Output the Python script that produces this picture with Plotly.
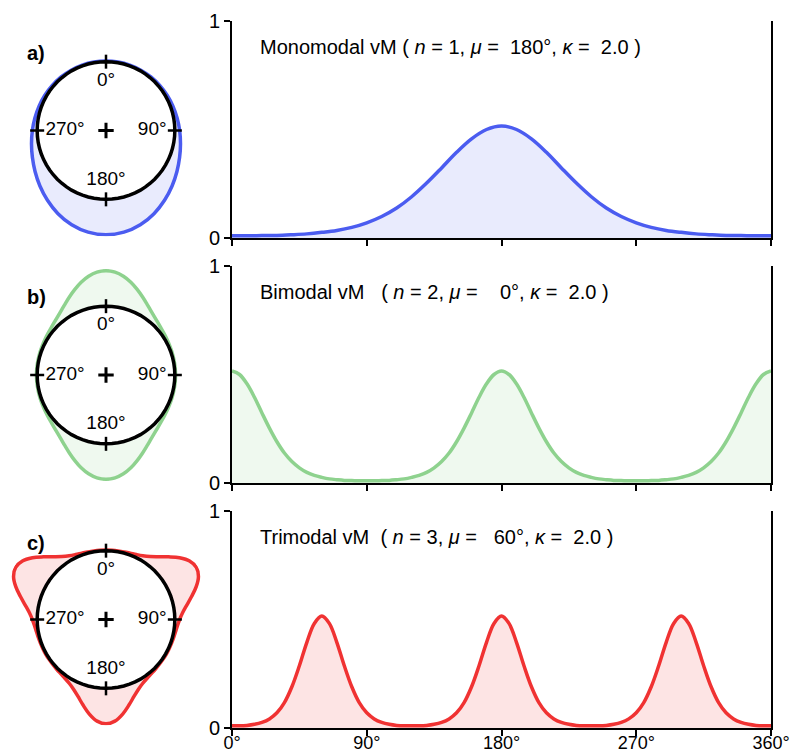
import plotly.graph_objects as go

# ---------------- data ----------------
theta_mono = list(range(0, 361, 10))   # degrees, 10° steps
theta_multi = list(range(0, 361, 5))   # degrees, 5° steps

mono_vals = [0.010, 0.010, 0.011, 0.012, 0.015, 0.019, 0.026, 0.035, 0.049, 0.070,
             0.099, 0.138, 0.190, 0.253, 0.323, 0.395, 0.457, 0.500, 0.516,
             0.500, 0.457, 0.395, 0.323, 0.253, 0.190, 0.138, 0.099, 0.070,
             0.049, 0.035, 0.026, 0.019, 0.015, 0.012, 0.011, 0.010, 0.010]

bi_vals = [0.516, 0.500, 0.457, 0.395, 0.323, 0.253, 0.190, 0.138, 0.099, 0.070,
           0.049, 0.035, 0.026, 0.019, 0.015, 0.012, 0.011, 0.010, 0.010,
           0.010, 0.011, 0.012, 0.015, 0.019, 0.026, 0.035, 0.049, 0.070,
           0.099, 0.138, 0.190, 0.253, 0.323, 0.395, 0.457, 0.500, 0.516,
           0.500, 0.457, 0.395, 0.323, 0.253, 0.190, 0.138, 0.099, 0.070,
           0.049, 0.035, 0.026, 0.019, 0.015, 0.012, 0.011, 0.010, 0.010,
           0.010, 0.011, 0.012, 0.015, 0.019, 0.026, 0.035, 0.049, 0.070,
           0.099, 0.138, 0.190, 0.253, 0.323, 0.395, 0.457, 0.500, 0.516]

tri_vals = [0.010, 0.010, 0.012, 0.017, 0.026, 0.042, 0.070, 0.117, 0.190, 0.287,
            0.395, 0.482, 0.516, 0.482, 0.395, 0.287, 0.190, 0.117, 0.070, 0.042,
            0.026, 0.017, 0.012, 0.010,
            0.010, 0.010, 0.012, 0.017, 0.026, 0.042, 0.070, 0.117, 0.190, 0.287,
            0.395, 0.482, 0.516, 0.482, 0.395, 0.287, 0.190, 0.117, 0.070, 0.042,
            0.026, 0.017, 0.012, 0.010,
            0.010, 0.010, 0.012, 0.017, 0.026, 0.042, 0.070, 0.117, 0.190, 0.287,
            0.395, 0.482, 0.516, 0.482, 0.395, 0.287, 0.190, 0.117, 0.070, 0.042,
            0.026, 0.017, 0.012, 0.010, 0.010]

names = ["Monomodal", "Bimodal", "Trimodal"]
n_vals = [1, 2, 3]
mu_vals = [180, 0, 60]
kappa_vals = [2.0, 2.0, 2.0]
panel_labels = ["a)", "b)", "c)"]

x_tickvals = [0, 90, 180, 270, 360]
x_ticktext = ["0°", "90°", "180°", "270°", "360°"]
y_tickvals = [0, 1]
y_ticktext = ["0", "1"]

compass_angles = [0, 90, 180, 270]
compass_text = ["0°", "90°", "180°", "270°"]

baseline = 1.0  # polar: curve drawn as baseline + density

# ---------------- styles ----------------
line_colors = ["rgb(75,92,240)", "rgb(142,210,142)", "rgb(240,50,50)"]
fill_colors = ["rgba(75,92,240,0.12)", "rgba(142,210,142,0.14)", "rgba(240,50,50,0.13)"]
FONT = "Liberation Sans, Arial, sans-serif"
FS = 20
NB = "\u00a0"

thetas = [theta_mono, theta_multi, theta_multi]
vals = [mono_vals, bi_vals, tri_vals]

# layout geometry (paper fractions)
W, H = 790, 755
x_dom = [232 / W, 771 / W]
y_doms = [[1 - 238 / H, 1 - 21 / H], [1 - 483 / H, 1 - 266 / H], [1 - 728 / H, 1 - 511 / H]]
polar_centers = [130.5, 375.0, 619.5]
polar_size = 212
label_y = [53, 297, 543]

fig = go.Figure()
layout = dict()

for i in range(3):
    sfx = "" if i == 0 else str(i + 1)
    th = thetas[i]
    v = vals[i]

    # ---- right: linear density plot ----
    fig.add_trace(go.Scatter(
        x=th, y=v, mode="lines",
        line=dict(color=line_colors[i], width=3.5, shape="spline"),
        fill="tozeroy", fillcolor=fill_colors[i],
        xaxis="x" + sfx, yaxis="y" + sfx,
        showlegend=False, hoverinfo="skip"))

    layout["xaxis" + sfx] = dict(
        domain=x_dom, range=[0, 360], anchor="y" + sfx, automargin=False,
        tickmode="array", tickvals=x_tickvals, ticktext=x_ticktext,
        showticklabels=(i == 2), ticks="outside", ticklen=6, tickwidth=2,
        ticklabelstandoff=-9, ticklabeloverflow="allow",
        tickcolor="black", showline=True, linecolor="black", linewidth=2,
        showgrid=False, zeroline=False,
        tickfont=dict(size=18, color="black", family=FONT))
    layout["yaxis" + sfx] = dict(
        domain=y_doms[i], range=[0, 1], anchor="x" + sfx, automargin=False,
        tickmode="array", tickvals=y_tickvals, ticktext=y_ticktext,
        ticks="outside", ticklen=6, tickwidth=2, tickcolor="black",
        showline=True, mirror=True, linecolor="black", linewidth=2,
        showgrid=False, zeroline=False,
        tickfont=dict(size=FS, color="black", family=FONT))

    # ---- left: polar representation ----
    sp = "polar" + sfx
    fig.add_trace(go.Scatterpolar(
        r=[baseline] * len(th), theta=th, mode="lines",
        line=dict(color="rgba(0,0,0,0)", width=0),
        subplot=sp, showlegend=False, hoverinfo="skip"))
    fig.add_trace(go.Scatterpolar(
        r=[baseline + x for x in v], theta=th, mode="lines",
        line=dict(color=line_colors[i], width=3.5, shape="spline"),
        fill="tonext", fillcolor=fill_colors[i],
        subplot=sp, showlegend=False, hoverinfo="skip"))
    fig.add_trace(go.Scatterpolar(
        r=[baseline] * len(theta_multi), theta=theta_multi, mode="lines",
        line=dict(color="black", width=3.5),
        subplot=sp, showlegend=False, hoverinfo="skip"))
    fig.add_trace(go.Scatterpolar(
        r=[baseline] * 4, theta=compass_angles, mode="markers",
        marker=dict(symbol="line-ns", size=10, angle=compass_angles,
                    line=dict(color="black", width=2.5)),
        subplot=sp, showlegend=False, hoverinfo="skip"))
    fig.add_trace(go.Scatterpolar(
        r=[0], theta=[0], mode="markers",
        marker=dict(symbol="cross-thin", size=11, line=dict(color="black", width=3)),
        subplot=sp, showlegend=False, hoverinfo="skip"))
    fig.add_trace(go.Scatterpolar(
        r=[0.86, 0.88, 0.86, 0.88], theta=compass_angles, mode="text",
        text=compass_text,
        textposition=["bottom center", "middle left", "top center", "middle right"],
        textfont=dict(size=19, color="black", family=FONT),
        subplot=sp, showlegend=False, hoverinfo="skip"))

    cy = polar_centers[i]
    layout[sp] = dict(
        domain=dict(x=[0, polar_size / W],
                    y=[1 - (cy + polar_size / 2) / H, 1 - (cy - polar_size / 2) / H]),
        bgcolor="rgba(0,0,0,0)",
        radialaxis=dict(visible=False, range=[0, 1.54]),
        angularaxis=dict(visible=False, rotation=90, direction="clockwise"),
    )

    # ---- annotations ----
    head = f"{names[i]} vM".ljust(12).replace(" ", NB)
    mu_s = f"{mu_vals[i]:4d}".replace(" ", NB)
    k_s = f"{kappa_vals[i]:4.1f}".replace(" ", NB)
    title = (f"{head}{NB}({NB}<i>n</i>{NB}={NB}{n_vals[i]},{NB}"
             f"<i>μ</i>{NB}={NB}{mu_s}°,{NB}<i>κ</i>{NB}={NB}{k_s}{NB})")
    fig.add_annotation(
        text=title, xref=("x" + sfx + " domain"), yref=("y" + sfx + " domain"),
        x=0.048, y=0.88, xanchor="left", yanchor="middle", showarrow=False,
        font=dict(size=FS, color="black", family=FONT))
    fig.add_annotation(
        text=f"<b>{panel_labels[i]}</b>", xref="paper", yref="paper",
        x=25 / W, y=1 - label_y[i] / H, xanchor="left", yanchor="middle",
        showarrow=False, font=dict(size=FS, color="black", family=FONT))

fig.update_layout(
    width=W, height=H, margin=dict(l=0, r=0, t=0, b=0, autoexpand=False),
    paper_bgcolor="white", plot_bgcolor="white",
    font=dict(family=FONT, color="black"),
    showlegend=False, **layout)

fig.write_html("out.html")
